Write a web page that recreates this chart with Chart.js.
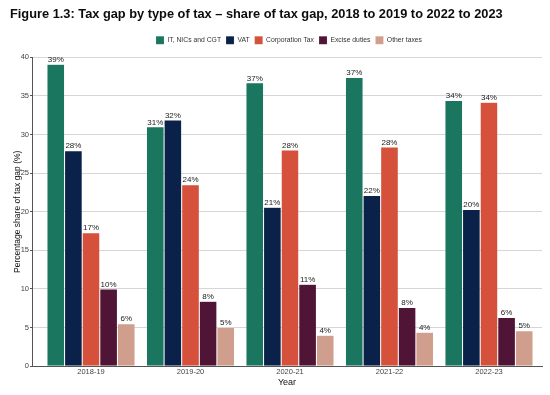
<!DOCTYPE html>
<html>
<head>
<meta charset="utf-8">
<script src="https://cdn.jsdelivr.net/npm/chart.js@4.4.1/dist/chart.umd.min.js"></script>
<style>
  html, body { margin: 0; padding: 0; background: #fff; }
  #wrap { width: 550px; height: 395px; position: relative; }
</style>
</head>
<body>
<div id="wrap"><canvas id="taxGapChart" width="550" height="395"></canvas></div>
<script>
// values (share of tax gap, %)
const years = ["2018-19", "2019-20", "2020-21", "2021-22", "2022-23"];
const itNicsCgt = [39.1, 31.0, 36.7, 37.4, 34.4];
const vat = [27.9, 31.9, 20.6, 22.1, 20.3];
const corporationTax = [17.3, 23.5, 28.0, 28.4, 34.2];
const exciseDuties = [10.0, 8.4, 10.6, 7.6, 6.3];
const otherTaxes = [5.5, 5.0, 4.0, 4.4, 4.6];
const seriesNames = ["IT, NICs and CGT", "VAT", "Corporation Tax", "Excise duties", "Other taxes"];
const yTicks = [0, 5, 10, 15, 20, 25, 30, 35, 40];

const colours = ["#1b7660", "#0a2149", "#d5513b", "#4f1436", "#d09e8c"];
const allSeries = [itNicsCgt, vat, corporationTax, exciseDuties, otherTaxes];

function toPoints(values) {
  return values.map(function (v, i) { return { x: i, y: v }; });
}

const datasets = allSeries.map(function (values, k) {
  return {
    label: seriesNames[k],
    data: toPoints(values),
    backgroundColor: colours[k],
    borderColor: "rgba(255,255,255,0.35)",
    borderWidth: { left: 0.5, right: 0.5, top: 0.5, bottom: 0 },
    categoryPercentage: 0.885,
    barPercentage: 1.0,
  };
});

// percentage labels above each bar
const barLabels = {
  id: "barLabels",
  afterDatasetsDraw: function (chart) {
    const ctx = chart.ctx;
    ctx.save();
    ctx.font = "8px 'Liberation Sans', Arial, sans-serif";
    ctx.fillStyle = "#1a1a1a";
    ctx.textAlign = "center";
    ctx.textBaseline = "bottom";
    chart.data.datasets.forEach(function (ds, di) {
      chart.getDatasetMeta(di).data.forEach(function (bar, i) {
        ctx.fillText(Math.round(ds.data[i].y) + "%", bar.x, bar.y - 0.5);
      });
    });
    ctx.restore();
  },
};

// legend sits over the plot area, with a little room below it
const legendTweak = {
  id: "legendTweak",
  afterInit: function (chart) {
    const origFit = chart.legend.fit;
    chart.legend.fit = function () {
      origFit.call(this);
      this.height += 3;
    };
  },
  afterLayout: function (chart) {
    chart.legend.left += 13;
    chart.legend.right += 13;
  },
};

const ctx = document.getElementById("taxGapChart").getContext("2d");
const taxGapChart = new Chart(ctx, {
  type: "bar",
  data: { datasets: datasets },
  plugins: [barLabels, legendTweak],
  options: {
    responsive: false,
    animation: false,
    layout: { padding: { left: 10, right: 8, top: 4, bottom: 7 } },
    plugins: {
      title: {
        display: true,
        text: "Figure 1.3: Tax gap by type of tax \u2013 share of tax gap, 2018 to 2019 to 2022 to 2023",
        align: "start",
        color: "#0b0c0c",
        font: { family: "'Liberation Sans', Arial, sans-serif", size: 12.8, weight: "bold" },
        padding: { top: 3, bottom: 9 },
      },
      legend: {
        display: true,
        position: "top",
        labels: {
          boxWidth: 8,
          boxHeight: 8,
          padding: 5,
          color: "#333",
          font: { family: "'Liberation Sans', Arial, sans-serif", size: 6.8 },
        },
      },
      tooltip: { enabled: false },
    },
    scales: {
      x: {
        type: "linear",
        offset: false,
        min: -0.593,
        max: 4.533,
        afterBuildTicks: function (scale) {
          scale.ticks = years.map(function (y, i) { return { value: i }; });
        },
        ticks: {
          autoSkip: false,
          maxRotation: 0,
          color: "#444",
          padding: 1,
          font: { family: "'Liberation Sans', Arial, sans-serif", size: 7.5 },
          callback: function (value) { return years[value]; },
        },
        grid: { display: false, drawOnChartArea: false, drawTicks: false },
        border: { display: true, color: "#555", width: 1 },
        title: {
          display: true,
          text: "Year",
          color: "#111",
          padding: { top: 0, bottom: 0 },
          font: { family: "'Liberation Sans', Arial, sans-serif", size: 9 },
        },
      },
      y: {
        min: 0,
        max: 40,
        afterBuildTicks: function (scale) {
          scale.ticks = yTicks.map(function (v) { return { value: v }; });
        },
        afterFit: function (scale) { scale.width = 22; },
        ticks: {
          color: "#444",
          padding: 1,
          font: { family: "'Liberation Sans', Arial, sans-serif", size: 7.5 },
        },
        grid: { color: "#d6d6d6", lineWidth: 1, tickLength: 2, tickColor: "#555" },
        border: { display: true, color: "#555", width: 1 },
        title: {
          display: true,
          text: "Percentage share of tax gap (%)",
          color: "#111",
          padding: { top: 3, bottom: 0 },
          font: { family: "'Liberation Sans', Arial, sans-serif", size: 8.5 },
        },
      },
    },
  },
});
</script>
</body>
</html>
